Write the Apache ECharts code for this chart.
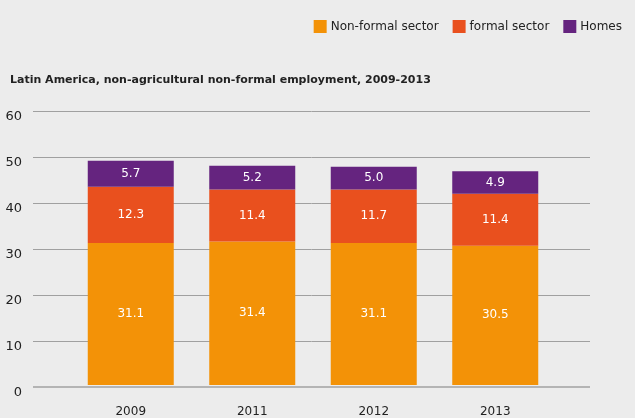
<!DOCTYPE html>
<html><head><meta charset="utf-8">
<script src="https://cdn.jsdelivr.net/npm/echarts@6/dist/echarts.min.js"></script>
<style>html,body{margin:0;padding:0;background:#ececec}#c{width:635px;height:418px}</style>
</head><body><div id="c"></div>
<script>
const categories = ['2009', '2011', '2012', '2013'];
const nonFormal = [31.1, 31.4, 31.1, 30.5];
const formal = [12.3, 11.4, 11.7, 11.4];
const homes = [5.7, 5.2, 5.0, 4.9];
const yTicks = [0, 10, 20, 30, 40, 50, 60];

const chart = echarts.init(document.getElementById('c'));
const font = 'DejaVu Sans';
const lbl = {show: true, position: 'inside', color: '#fff', fontSize: 12, fontFamily: font,
  formatter: p => p.value.toFixed(1)};
function ser(name, data, color) {
  return {name, type: 'bar', stack: 's', data, xAxisIndex: 1, yAxisIndex: 1,
    barWidth: 86, itemStyle: {color}, label: lbl};
}
chart.setOption({
  backgroundColor: '#ececec',
  animation: false,
  textStyle: {fontFamily: font},
  title: {text: 'Latin America, non-agricultural non-formal employment, 2009-2013',
    left: 5, top: 70, textStyle: {fontSize: 11, fontWeight: 'bold', color: '#222', fontFamily: font}},
  legend: {right: 8, top: 15, itemWidth: 13, itemHeight: 13, itemGap: 14, icon: 'rect',
    textStyle: {fontSize: 12, color: '#222', fontFamily: font, padding: [0, 0, 0, -1]},
    data: ['Non-formal sector', 'formal sector', 'Homes']},
  grid: [
    {left: 33, right: 45, top: 111, bottom: 31},
    {left: 70, right: 79, top: 111, bottom: 31}
  ],
  xAxis: [
    {type: 'value', gridIndex: 0, min: 0, max: 1, show: false},
    {type: 'category', gridIndex: 1, data: categories,
      axisLine: {show: false}, axisTick: {show: false},
      axisLabel: {color: '#222', fontSize: 12, margin: 21, fontFamily: font}}
  ],
  yAxis: [
    {type: 'value', gridIndex: 0, min: yTicks[0], max: yTicks[yTicks.length - 1], interval: 10,
      axisLine: {show: false}, axisTick: {show: false},
      axisLabel: {color: '#222', fontSize: 13, margin: 11, fontFamily: font, verticalAlign: 'top', padding: [-1, 0, 0, 0]},
      splitLine: {lineStyle: {color: '#a0a0a0', width: 1}}},
    {type: 'value', gridIndex: 1, min: 0, max: 60, interval: 10, show: false, splitLine: {show: false}}
  ],
  series: [
    {type: 'line', xAxisIndex: 0, yAxisIndex: 0, data: [[0, 0], [1, 0]], symbol: 'none',
      lineStyle: {color: '#b4b4b4', width: 2}, silent: true, z: 1},
    ser('Non-formal sector', nonFormal, '#F39207'),
    ser('formal sector', formal, '#E9501E'),
    ser('Homes', homes, '#65247F')
  ]
});
</script></body></html>
